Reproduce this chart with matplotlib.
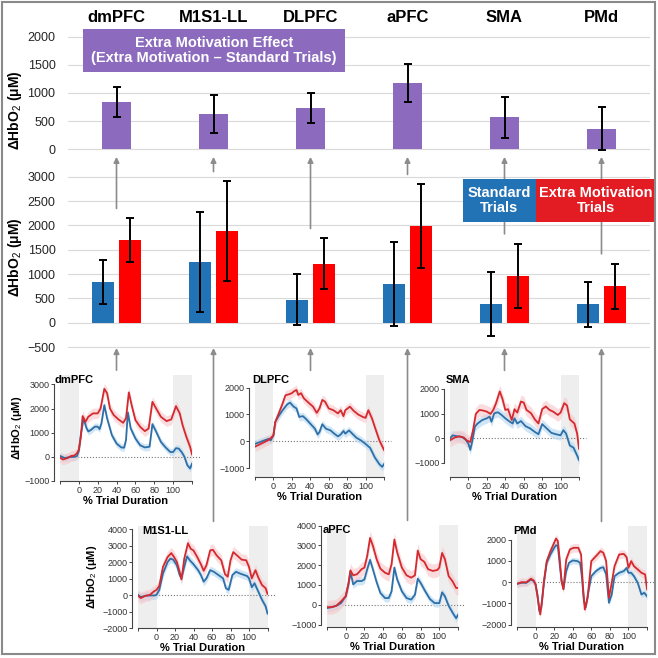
import matplotlib
matplotlib.use('Agg')
import matplotlib.pyplot as plt
import matplotlib.transforms as mtransforms
from matplotlib.patches import ConnectionPatch, Rectangle
import numpy as np

plt.rcParams['font.family'] = ['Liberation Sans', 'DejaVu Sans']
plt.rcParams['mathtext.fontset'] = 'custom'
plt.rcParams['mathtext.rm'] = 'Liberation Sans'
plt.rcParams['mathtext.it'] = 'Liberation Sans:italic'
plt.rcParams['mathtext.bf'] = 'Liberation Sans:bold'

# ---- bar data (HbO2 change, uM) ----
regions = ['dmPFC', 'M1S1-LL', 'DLPFC', 'aPFC', 'SMA', 'PMd']
effect = [845, 625, 730, 1180, 570, 365]
effect_err = [265, 335, 262, 345, 365, 385]
standard = [840, 1245, 475, 790, 385, 375]
standard_err = [455, 1025, 520, 865, 660, 470]
extra = [1695, 1880, 1215, 1980, 960, 750]
extra_err = [452, 1025, 520, 866, 665, 465]

top_ticks = [0, 500, 1000, 1500, 2000]
mid_ticks = [-500, 0, 500, 1000, 1500, 2000, 2500, 3000]
time_ticks = [-20, 0, 20, 40, 60, 80, 100, 120]
time_labels = ['', '0', '20', '40', '60', '80', '100', '']

# ---- time courses: (% trial duration, HbO2) ----
dmpfc_std = [(-20, 40), (-15, -50), (-10, -10), (-5, 0), (-2, 30), (0, 250), (2, 900), (5, 1590),
             (8, 1200), (10, 1050), (13, 1120), (17, 1250), (20, 1250), (22, 1150), (24, 1400),
             (27, 2140), (30, 1590), (35, 900), (40, 550), (45, 390), (48, 380), (50, 700),
             (52, 1840), (55, 1175), (60, 760), (65, 480), (70, 390), (75, 420), (78, 1355),
             (82, 1040), (87, 620), (92, 390), (97, 200), (100, 200), (103, 360), (106, 340),
             (109, 200), (112, 0), (115, -345), (118, -480), (120, -280)]
dmpfc_ext = [(-20, -30), (-17, -110), (-12, -50), (-8, 40), (-5, 50), (-2, 150), (0, 300), (2, 800),
             (4, 1690), (7, 1450), (10, 1660), (15, 1800), (20, 1800), (23, 2000), (27, 2820),
             (30, 2630), (33, 2000), (37, 1730), (42, 1550), (47, 1410), (50, 1600), (53, 2670),
             (56, 2140), (60, 1520), (65, 1245), (70, 1065), (74, 1175), (78, 2280), (82, 2000),
             (87, 1660), (93, 1480), (98, 1550), (103, 2100), (107, 1800), (110, 1315),
             (114, 830), (118, 415), (120, 100)]

dlpfc_std = [(-20, -90), (-15, -25), (-10, 40), (-5, 100), (-3, 40), (0, 225), (2, 725), (5, 910),
             (10, 1160), (15, 1375), (18, 1440), (22, 1290), (25, 1225), (28, 910), (32, 940),
             (36, 810), (40, 660), (45, 475), (48, 260), (50, 350), (53, 640), (57, 475),
             (62, 410), (66, 290), (70, 190), (73, 260), (76, 390), (78, 290), (82, 410),
             (85, 310), (90, 140), (95, 40), (100, -90), (105, -240), (110, -590), (115, -840),
             (118, -940), (120, -840)]
dlpfc_ext = [(-20, -190), (-15, -110), (-10, -25), (-5, 60), (0, 225), (2, 725), (5, 975),
             (10, 1410), (13, 1710), (17, 1750), (20, 1790), (22, 1850), (25, 1910), (27, 1725),
             (30, 1790), (33, 1600), (38, 1440), (43, 1290), (47, 1060), (50, 1225), (53, 1540),
             (56, 1475), (60, 1225), (65, 1160), (70, 1040), (73, 1160), (76, 940), (78, 1160),
             (83, 1290), (87, 1140), (92, 1000), (97, 910), (100, 875), (103, 1160), (107, 850),
             (110, 540), (115, 40), (120, -310)]

sma_std = [(-20, 0), (-17, 120), (-12, 80), (-7, 55), (-3, -55), (0, -220), (2, -470), (4, -150),
           (7, 470), (10, 600), (15, 740), (20, 810), (23, 880), (25, 670), (28, 1015), (32, 1055),
           (36, 945), (40, 810), (45, 670), (48, 600), (50, 810), (53, 600), (57, 700), (62, 490),
           (67, 400), (72, 260), (76, 165), (80, 575), (85, 400), (90, 220), (95, 165), (100, 120),
           (103, 330), (106, 190), (110, -290), (114, -380), (118, -700), (120, -880)]
sma_ext = [(-20, -80), (-15, 30), (-10, 80), (-5, 30), (-2, -80), (0, -120), (2, -150), (5, 330),
           (8, 990), (12, 1150), (16, 1125), (20, 1080), (24, 990), (27, 1150), (30, 1425),
           (34, 1900), (37, 1590), (40, 1150), (43, 1180), (47, 740), (50, 1180), (53, 1040),
           (57, 1490), (60, 1450), (63, 1150), (68, 1015), (72, 770), (76, 600), (80, 1180),
           (84, 1290), (88, 1150), (92, 1080), (97, 945), (100, 1040), (104, 1425), (107, 1330),
           (110, 770), (115, 600), (118, 190), (120, -425)]

m1s1_std = [(-20, 20), (-17, -120), (-12, -40), (-7, -20), (-2, -20), (0, 20), (3, 320), (7, 1320),
            (12, 2020), (15, 2220), (18, 2160), (22, 1820), (25, 1220), (27, 1020), (30, 1720),
            (33, 2360), (36, 2120), (40, 1880), (45, 1520), (48, 1220), (51, 820), (54, 1020),
            (58, 1520), (62, 1420), (67, 1220), (72, 1020), (75, 420), (78, 320), (82, 1220),
            (86, 1420), (90, 1320), (95, 1220), (98, 1160), (100, 1020), (103, 480), (106, 720),
            (110, 220), (114, -280), (118, -680), (120, -1120)]
m1s1_ext = [(-20, -40), (-17, -180), (-12, -40), (-7, 20), (-3, 220), (0, 320), (3, 560), (7, 1720),
            (12, 2320), (16, 2560), (19, 2320), (22, 2020), (25, 1420), (27, 960), (30, 2220),
            (34, 3160), (37, 2820), (40, 2720), (44, 2320), (48, 1880), (51, 1480), (54, 1820),
            (58, 2720), (61, 2760), (65, 2420), (70, 2120), (74, 1280), (77, 1120), (80, 2120),
            (83, 2620), (87, 2420), (92, 2160), (97, 2120), (100, 1720), (103, 1020), (107, 1520),
            (110, 1080), (114, 620), (118, 420), (120, 80)]

apfc_std = [(-20, -170), (-15, -120), (-10, -50), (-5, 85), (0, 430), (3, 1030), (5, 1660), (8, 1030),
            (12, 1200), (17, 1200), (20, 1280), (23, 1800), (26, 2270), (29, 1800), (33, 1150),
            (37, 600), (42, 340), (46, 340), (49, 680), (52, 1880), (55, 1280), (60, 680), (65, 340),
            (70, 260), (74, 510), (77, 1320), (80, 1110), (85, 680), (90, 290), (95, 85), (100, 85),
            (103, 630), (106, 430), (110, -50), (115, -460), (118, -680), (120, -510)]
apfc_ext = [(-20, -120), (-15, -120), (-10, -50), (-5, 170), (0, 430), (3, 1110), (5, 1740),
            (8, 1490), (12, 1540), (17, 1800), (20, 1880), (23, 2480), (26, 3380), (29, 2990),
            (33, 2310), (37, 1830), (42, 1620), (46, 1540), (49, 2050), (52, 3300), (55, 2650),
            (60, 1880), (65, 1490), (70, 1370), (74, 1490), (77, 2740), (80, 2310), (84, 2170),
            (88, 1800), (93, 1710), (98, 1760), (100, 1880), (103, 2620), (106, 2310), (110, 1450),
            (114, 1200), (118, 850), (120, 850)]

pmd_std = [(-20, -80), (-15, -30), (-10, -30), (-5, 125), (-2, 50), (0, -110), (2, -580), (4, -1360),
           (6, -1210), (9, -30), (12, 910), (16, 1300), (20, 1615), (22, 1740), (24, 1690), (26, 830),
           (28, 50), (30, -300), (33, 520), (36, 910), (40, 1020), (45, 990), (48, 910), (50, 200),
           (52, -890), (54, -1180), (57, -420), (60, 280), (65, 520), (70, 670), (73, 700), (76, 360),
           (79, -970), (82, -580), (85, 280), (90, 440), (95, 520), (98, 670), (100, 440), (103, 440),
           (106, 280), (110, -30), (114, -580), (117, -500), (120, -660)]
pmd_ext = [(-20, -80), (-15, 0), (-10, -10), (-5, 160), (-2, 80), (0, -110), (2, -660), (5, -1520),
           (7, -890), (9, 50), (12, 990), (16, 1460), (20, 1850), (22, 2050), (24, 1930), (26, 1070),
           (28, 50), (30, -340), (33, 1070), (37, 1540), (41, 1615), (46, 1615), (49, 1300),
           (51, -190), (53, -1290), (56, -740), (60, 990), (65, 1220), (70, 1460), (73, 1380),
           (76, 990), (79, -740), (82, -30), (85, 750), (90, 1300), (95, 1330), (98, 1180),
           (100, 670), (103, 990), (106, 750), (110, 600), (114, 440), (118, 360), (120, -340)]

# half-width of the shaded error band, per panel (standard, extra)
band_std = [150, 150, 200, 250, 200, 150]
band_ext = [220, 180, 260, 350, 350, 200]

# ---- colours ----
purple = '#8c6bbf'
bar_blue = '#2272b6'
bar_red = '#ff0000'
box_red = '#e31b23'
line_blue = '#2e6fa7'
line_red = '#d42a2f'
fill_blue = '#bcdcf3'
fill_red = '#f8c6c9'
arrow_c = '#8c8c8c'
grid_c = '#d9d9d9'

W = H = 658


def px_rect(l, t, r, b):
    return [l / W, 1 - b / H, (r - l) / W, (b - t) / H]


fig = plt.figure(figsize=(6.58, 6.58), dpi=100)
fig.patch.set_facecolor('white')
x = np.arange(len(regions))


def bar_axes(ax, ticks):
    ax.set_xlim(-0.5, 5.5)
    ax.set_yticks(ticks)
    ax.set_xticks([])
    for s in ax.spines.values():
        s.set_visible(False)
    ax.yaxis.grid(True, color=grid_c, lw=0.8)
    ax.set_axisbelow(True)
    ax.tick_params(axis='y', length=0, pad=9, labelsize=9, labelcolor='#262626')


ekw = dict(elinewidth=1.4, capthick=1.4, ecolor='black')

# top: extra motivation effect
ax_top = fig.add_axes(px_rect(68, 25, 650, 155))
bar_axes(ax_top, top_ticks)
ax_top.set_ylim(-107, 2214)
ax_top.bar(x, effect, width=0.3, color=purple, yerr=effect_err, capsize=3, error_kw=ekw)

# middle: standard vs extra motivation
ax_mid = fig.add_axes(px_rect(68, 165, 650, 352))
bar_axes(ax_mid, mid_ticks)
ax_mid.set_ylim(-602, 3241)
ax_mid.bar(x - 0.144, standard, width=0.227, color=bar_blue, yerr=standard_err, capsize=3, error_kw=ekw)
ax_mid.bar(x + 0.144, extra, width=0.227, color=bar_red, yerr=extra_err, capsize=3, error_kw=ekw)

hdr_tr = mtransforms.blended_transform_factory(ax_top.transData, fig.transFigure)
for i, name in enumerate(regions):
    ax_top.text(i, 1 - 17 / H, name, transform=hdr_tr, ha='center', va='center',
                fontsize=12, fontweight='bold', clip_on=False)

ylab = r'ΔHbO$_2$ (μM)'
fig.text(15 / W, 1 - 110 / H, ylab, rotation=90, ha='center', va='center', fontsize=10, fontweight='bold')
fig.text(15 / W, 1 - 257 / H, ylab, rotation=90, ha='center', va='center', fontsize=10, fontweight='bold')

# arrows middle -> top
for i in range(len(regions)):
    y0 = max(standard[i] + standard_err[i], extra[i] + extra_err[i]) + 200
    con = ConnectionPatch(xyA=(i, y0), coordsA=ax_mid.transData, xyB=(i, -140), coordsB=ax_top.transData,
                          arrowstyle='-|>', mutation_scale=8, color=arrow_c, lw=1.2, zorder=2)
    fig.add_artist(con)

# ---- small time-course panels ----
panels = [
    # name, column, series std, series ext, rect(px), ylim, yticks, title dx, ylabel x
    ('dmPFC', 0, dmpfc_std, dmpfc_ext, (60, 375, 192, 481), (-1000, 3390), [-1000, 0, 1000, 2000, 3000], -0.04, -0.27),
    ('DLPFC', 2, dlpfc_std, dlpfc_ext, (255, 375, 384, 477), (-1315, 2463), [-1000, 0, 1000, 2000], -0.02, None),
    ('SMA', 4, sma_std, sma_ext, (450, 375, 579, 477), (-1569, 2566), [-1000, 0, 1000, 2000], -0.03, None),
    ('M1S1-LL', 1, m1s1_std, m1s1_ext, (138, 526, 267.5, 628), (-2000, 4207),
     [-2000, -1000, 0, 1000, 2000, 3000, 4000], 0.03, -0.3),
    ('aPFC', 3, apfc_std, apfc_ext, (327, 525, 458, 627), (-1124, 4034), [-1000, 0, 1000, 2000, 3000, 4000], -0.03, None),
    ('PMd', 5, pmd_std, pmd_ext, (517, 526, 647, 627), (-2108, 2640), [-2000, -1000, 0, 1000, 2000], -0.03, None),
]

for k, (name, col, s_std, s_ext, rect, ylim, yt, tdx, ylx) in enumerate(panels):
    ax = fig.add_axes(px_rect(*rect))
    ax.set_xlim(-20, 120)
    ax.set_ylim(*ylim)
    ax.axvspan(-20, 0, color='#eeeeee', lw=0, zorder=0)
    ax.axvspan(100, 120, color='#eeeeee', lw=0, zorder=0)
    ax.plot([-20, 128], [0, 0], ls=':', color='#777777', lw=0.8, clip_on=False, zorder=1)
    t1, v1 = np.array(s_std).T
    t2, v2 = np.array(s_ext).T
    ax.fill_between(t1, v1 - band_std[k], v1 + band_std[k], color=fill_blue, alpha=0.7, lw=0, zorder=2)
    ax.fill_between(t2, v2 - band_ext[k], v2 + band_ext[k], color=fill_red, alpha=0.6, lw=0, zorder=2)
    ax.plot(t1, v1, color=line_blue, lw=1.3, zorder=3)
    ax.plot(t2, v2, color=line_red, lw=1.3, zorder=4)
    for side in ('top', 'right'):
        ax.spines[side].set_visible(False)
    ax.spines['left'].set_bounds(yt[0], yt[-1])
    ax.spines['left'].set_position(('outward', 4))
    ax.spines['bottom'].set_bounds(-20, 120)
    for side in ('left', 'bottom'):
        ax.spines[side].set_color('#444444')
        ax.spines[side].set_linewidth(0.8)
    ax.set_yticks(yt)
    ax.set_xticks(time_ticks)
    ax.set_xticklabels(time_labels)
    ax.tick_params(length=2, width=0.7, color='#444444', pad=1.5, labelsize=6.5, labelcolor='#333333')
    ax.set_xlabel('% Trial Duration', fontsize=8, fontweight='bold', labelpad=1)
    if ylx is not None:
        ax.set_ylabel(ylab, fontsize=8, fontweight='bold')
        ax.yaxis.set_label_coords(ylx, 0.5)
    ax.text(tdx, 1.0, name, transform=ax.transAxes, ha='left', va='top', fontsize=8, fontweight='bold')

    tr = mtransforms.blended_transform_factory(ax_mid.transData, ax.transAxes)
    con = ConnectionPatch(xyA=(col, 1.045), coordsA=tr, xyB=(col, -520), coordsB=ax_mid.transData,
                          arrowstyle='-|>', mutation_scale=8, color=arrow_c, lw=1.2, zorder=2)
    fig.add_artist(con)

# ---- overlay: title box, legend boxes, frame ----
ov = fig.add_axes([0, 0, 1, 1], zorder=5)
ov.set_xlim(0, W)
ov.set_ylim(H, 0)
ov.axis('off')

ov.add_patch(Rectangle((83, 29), 262, 43, color=purple, lw=0))
ov.text(214, 50.5, 'Extra Motivation Effect\n(Extra Motivation \u2013 Standard Trials)', ha='center', va='center',
        color='white', fontsize=10.5, fontweight='bold', linespacing=1.15)

ov.add_patch(Rectangle((463, 179), 73, 43, color=bar_blue, lw=0))
ov.text(499.5, 200.5, 'Standard\nTrials', ha='center', va='center', color='white',
        fontsize=10.5, fontweight='bold', linespacing=1.15)
ov.add_patch(Rectangle((536, 179), 120, 43, color=box_red, lw=0))
ov.text(596, 200.5, 'Extra Motivation\nTrials', ha='center', va='center', color='white',
        fontsize=10.5, fontweight='bold', linespacing=1.15)

ov.add_patch(Rectangle((2, 2), 653, 652, fill=False, ec='#8a8a8a', lw=1.5))

fig.savefig('out.png', dpi=100)
